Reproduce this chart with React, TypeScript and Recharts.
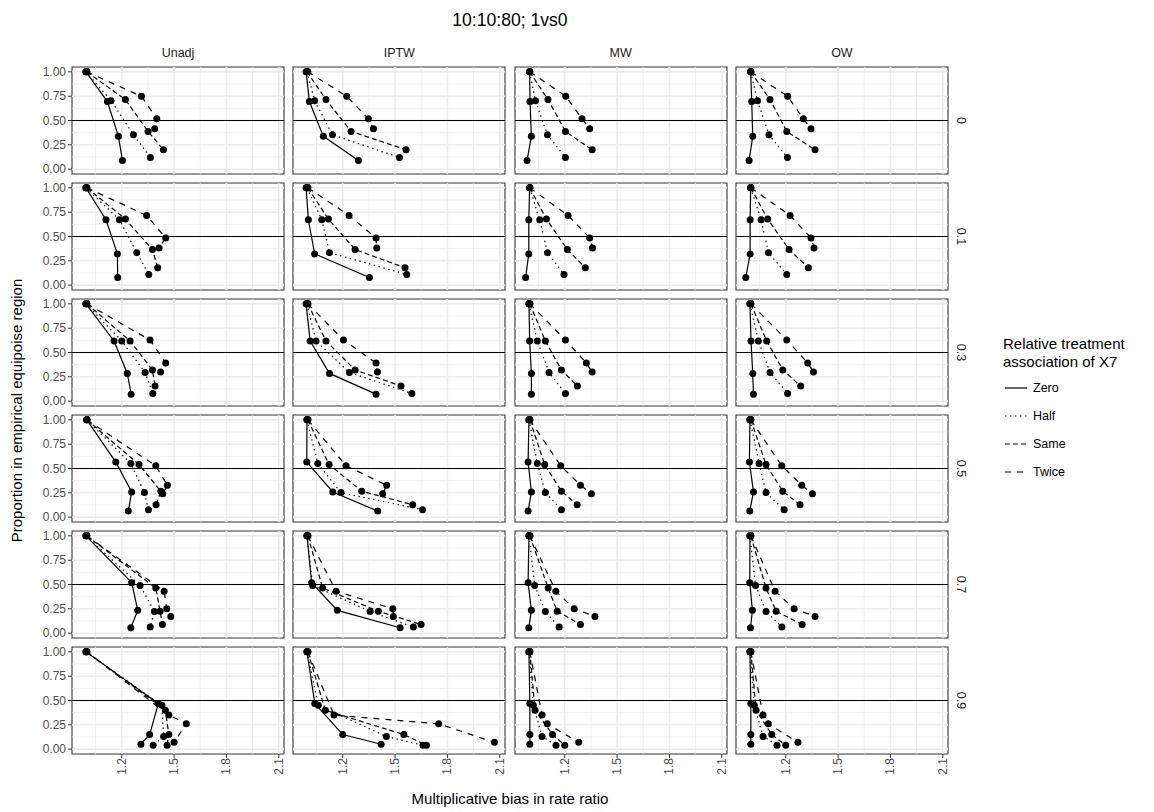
import React from 'react';
import { ComposedChart, Scatter, XAxis, YAxis, ReferenceLine, ReferenceArea } from 'recharts';

const title = '10:10:80; 1vs0';
const methods = ['Unadj', 'IPTW', 'MW', 'OW'];
const factors = ['0', '0.1', '0.3', '0.5', '0.7', '0.9'];
const seriesNames = ['Zero', 'Half', 'Same', 'Twice'];
const xTicks = [1.2, 1.5, 1.8, 2.1];
const xMinor = [1.05, 1.35, 1.65, 1.95];
const yTicks = [0, 0.25, 0.5, 0.75, 1];
const yMinor = [0.125, 0.375, 0.625, 0.875];

// proportion in equipoise region (rows = factor levels)
const yZero = [
  [1, 0.695, 0.337, 0.089],
  [1, 0.672, 0.321, 0.079],
  [1, 0.619, 0.285, 0.072],
  [1, 0.566, 0.259, 0.062],
  [1, 0.519, 0.234, 0.055],
  [1, 0.47, 0.15, 0.05],
];
const yHalf = [
  [1, 0.704, 0.354, 0.12],
  [1, 0.672, 0.334, 0.11],
  [1, 0.619, 0.295, 0.079],
  [1, 0.552, 0.252, 0.076],
  [1, 0.491, 0.223, 0.062],
  [1, 0.45, 0.13, 0.04],
];
const ySame = [
  [1, 0.715, 0.388, 0.199],
  [1, 0.679, 0.366, 0.179],
  [1, 0.619, 0.32, 0.155],
  [1, 0.541, 0.266, 0.128],
  [1, 0.464, 0.225, 0.089],
  [1, 0.4, 0.15, 0.04],
];
const yTwice = [
  [1, 0.749, 0.519, 0.414],
  [1, 0.717, 0.485, 0.383],
  [1, 0.629, 0.392, 0.3],
  [1, 0.528, 0.328, 0.241],
  [1, 0.431, 0.251, 0.172],
  [1, 0.35, 0.26, 0.07],
];

// multiplicative bias (rows = factor levels)
const xUnadjZero = [
  [0.995, 1.118, 1.181, 1.204],
  [0.995, 1.11, 1.175, 1.177],
  [0.995, 1.156, 1.232, 1.254],
  [1.0, 1.166, 1.257, 1.238],
  [0.995, 1.257, 1.292, 1.252],
  [0.995, 1.41, 1.36, 1.31],
];
const xUnadjHalf = [
  [0.995, 1.139, 1.267, 1.364],
  [0.995, 1.187, 1.286, 1.355],
  [0.995, 1.2, 1.334, 1.378],
  [1.0, 1.252, 1.33, 1.353],
  [0.995, 1.305, 1.387, 1.363],
  [0.995, 1.43, 1.44, 1.38],
];
const xUnadjSame = [
  [1.0, 1.221, 1.351, 1.439],
  [1.0, 1.221, 1.376, 1.406],
  [1.0, 1.248, 1.376, 1.391],
  [1.0, 1.299, 1.424, 1.397],
  [1.0, 1.395, 1.42, 1.433],
  [1.0, 1.45, 1.47, 1.46],
];
const xUnadjTwice = [
  [1.0, 1.313, 1.401, 1.389],
  [1.0, 1.343, 1.452, 1.414],
  [1.0, 1.362, 1.452, 1.423],
  [1.0, 1.395, 1.462, 1.435],
  [1.0, 1.443, 1.458, 1.481],
  [1.0, 1.47, 1.57, 1.5],
];
const xIptwZero = [
  [0.99, 1.009, 1.089, 1.29],
  [0.99, 1.003, 1.039, 1.353],
  [0.99, 1.013, 1.124, 1.391],
  [0.995, 0.994, 1.143, 1.401],
  [0.995, 1.022, 1.169, 1.529],
  [0.995, 1.04, 1.2, 1.42],
];
const xIptwHalf = [
  [0.995, 1.039, 1.141, 1.525],
  [0.995, 1.08, 1.124, 1.567],
  [0.995, 1.047, 1.238, 1.596],
  [0.995, 1.057, 1.19, 1.657],
  [0.995, 1.028, 1.357, 1.605],
  [0.995, 1.06, 1.45, 1.66],
];
const xIptwSame = [
  [0.995, 1.104, 1.248, 1.563],
  [1.0, 1.118, 1.271, 1.557],
  [1.0, 1.104, 1.271, 1.534],
  [1.0, 1.122, 1.309, 1.601],
  [1.0, 1.085, 1.404, 1.649],
  [1.0, 1.1, 1.55, 1.68],
];
const xIptwTwice = [
  [1.0, 1.223, 1.347, 1.376],
  [1.0, 1.236, 1.391, 1.395],
  [1.0, 1.204, 1.391, 1.399],
  [1.0, 1.219, 1.452, 1.429],
  [1.0, 1.162, 1.487, 1.49],
  [1.0, 1.15, 1.75, 2.07],
];
const xMwZero = [
  [0.999, 1.001, 1.009, 0.984],
  [0.999, 0.994, 0.994, 0.976],
  [0.995, 0.999, 1.009, 1.009],
  [0.995, 0.99, 1.009, 0.99],
  [0.995, 0.99, 1.009, 0.994],
  [0.995, 1.0, 1.0, 1.0],
];
const xMwHalf = [
  [0.999, 1.032, 1.101, 1.204],
  [0.999, 1.057, 1.101, 1.196],
  [0.995, 1.043, 1.11, 1.204],
  [0.995, 1.043, 1.089, 1.181],
  [0.995, 1.028, 1.089, 1.168],
  [0.995, 1.02, 1.07, 1.15],
];
const xMwSame = [
  [0.999, 1.104, 1.204, 1.357],
  [1.0, 1.095, 1.215, 1.318],
  [1.0, 1.089, 1.181, 1.273],
  [1.0, 1.085, 1.181, 1.271],
  [1.0, 1.105, 1.157, 1.29],
  [1.0, 1.03, 1.13, 1.2],
];
const xMwTwice = [
  [1.0, 1.206, 1.299, 1.343],
  [1.0, 1.219, 1.343, 1.359],
  [1.0, 1.204, 1.324, 1.357],
  [1.0, 1.177, 1.29, 1.353],
  [1.0, 1.149, 1.254, 1.373],
  [1.0, 1.07, 1.1, 1.28],
];
const xOwZero = [
  [0.999, 1.005, 1.011, 0.99],
  [0.999, 0.996, 0.996, 0.971],
  [0.995, 1.001, 1.011, 1.015],
  [0.995, 0.992, 1.015, 0.994],
  [0.995, 0.994, 1.009, 0.998],
  [0.995, 1.0, 1.0, 1.0],
];
const xOwHalf = [
  [0.999, 1.038, 1.104, 1.21],
  [0.999, 1.059, 1.101, 1.206],
  [0.995, 1.043, 1.11, 1.211],
  [0.995, 1.047, 1.087, 1.191],
  [0.995, 1.027, 1.087, 1.178],
  [0.995, 1.02, 1.07, 1.15],
];
const xOwSame = [
  [1.0, 1.11, 1.206, 1.368],
  [1.0, 1.097, 1.219, 1.33],
  [1.0, 1.091, 1.183, 1.286],
  [1.0, 1.087, 1.183, 1.282],
  [1.0, 1.087, 1.145, 1.294],
  [1.0, 1.03, 1.12, 1.2],
];
const xOwTwice = [
  [1.0, 1.211, 1.301, 1.345],
  [1.0, 1.225, 1.345, 1.362],
  [1.0, 1.206, 1.326, 1.359],
  [1.0, 1.177, 1.292, 1.353],
  [1.0, 1.139, 1.248, 1.368],
  [1.0, 1.07, 1.1, 1.27],
];

const yBySeries = [yZero, yHalf, ySame, yTwice];
const xByMethod = [
  [xUnadjZero, xUnadjHalf, xUnadjSame, xUnadjTwice],
  [xIptwZero, xIptwHalf, xIptwSame, xIptwTwice],
  [xMwZero, xMwHalf, xMwSame, xMwTwice],
  [xOwZero, xOwHalf, xOwSame, xOwTwice],
];

// styling
const DASH: Record<string, string | undefined> = {
  Zero: undefined,
  Half: '1.4 3.6',
  Same: '5 3',
  Twice: '6 6',
};
const FONT = '"Liberation Sans", Arial, Helvetica, sans-serif';
const X_DOMAIN: [number, number] = [0.915, 2.13];
const Y_DOMAIN: [number, number] = [-0.05, 1.05];
const PW = 212;
const PH = 107;
const PANEL_LEFT = [72, 293.3, 514.6, 735.9];
const PANEL_TOP = [67, 183, 299, 415, 531, 647];
const Y_AXIS_W = 40;
const X_AXIS_H = 34;

const Dot = (p: any) => <circle cx={p.cx} cy={p.cy} r={3.5} fill="#000" />;

const XTick = (p: any) => {
  const { x, y, payload } = p;
  return (
    <text
      x={x}
      y={y - 2}
      transform={`rotate(-90 ${x} ${y - 2})`}
      textAnchor="end"
      dominantBaseline="central"
      fontSize={12}
      fontFamily={FONT}
      fill="#4d4d4d"
    >
      {Number(payload.value).toFixed(1)}
    </text>
  );
};

function Panel({ mi, ri }: { mi: number; ri: number }) {
  const isLeft = mi === 0;
  const isBottom = ri === 5;
  const w = PW + (isLeft ? Y_AXIS_W : 0);
  const h = PH + (isBottom ? X_AXIS_H : 0);
  const left = PANEL_LEFT[mi] - (isLeft ? Y_AXIS_W : 0);
  const top = PANEL_TOP[ri];
  return (
    <div style={{ position: 'absolute', left, top }}>
      <ComposedChart width={w} height={h} margin={{ top: 0, right: 0, bottom: 0, left: 0 }}>
        <XAxis
          type="number"
          dataKey="x"
          domain={X_DOMAIN}
          ticks={xTicks}
          allowDataOverflow
          hide={!isBottom}
          height={X_AXIS_H}
          axisLine={false}
          tickSize={4}
          tickLine={{ stroke: '#333333' }}
          tick={<XTick />}
          interval={0}
        />
        <YAxis
          type="number"
          dataKey="y"
          domain={Y_DOMAIN}
          ticks={yTicks}
          allowDataOverflow
          hide={!isLeft}
          width={Y_AXIS_W}
          axisLine={false}
          tickSize={4}
          tickMargin={2}
          tickLine={{ stroke: '#333333' }}
          tick={{ fontSize: 12, fill: '#4d4d4d', fontFamily: FONT }}
          tickFormatter={(v: number) => v.toFixed(2)}
          interval={0}
        />
        {xMinor.map((v) => (
          <ReferenceLine key={'xm' + v} x={v} stroke="#ebebeb" strokeWidth={0.8} />
        ))}
        {yMinor.map((v) => (
          <ReferenceLine key={'ym' + v} y={v} stroke="#ebebeb" strokeWidth={0.8} />
        ))}
        {xTicks.map((v) => (
          <ReferenceLine key={'xM' + v} x={v} stroke="#ebebeb" strokeWidth={1.5} />
        ))}
        {yTicks.map((v) => (
          <ReferenceLine key={'yM' + v} y={v} stroke="#ebebeb" strokeWidth={1.5} />
        ))}
        <ReferenceLine y={0.5} stroke="#000" strokeWidth={1.2} />
        {seriesNames.map((s, si) => {
          const xs = xByMethod[mi][si][ri];
          const ys = yBySeries[si][ri];
          const data = xs.map((x, i) => ({ x, y: ys[i] }));
          return (
            <Scatter
              key={s}
              name={s}
              data={data}
              fill="#000"
              line={{ stroke: '#000', strokeWidth: 1.2, strokeDasharray: DASH[s] }}
              lineType="joint"
              shape={Dot}
              isAnimationActive={false}
            />
          );
        })}
        <ReferenceArea
          x1={X_DOMAIN[0]}
          x2={X_DOMAIN[1]}
          y1={Y_DOMAIN[0]}
          y2={Y_DOMAIN[1]}
          fill="none"
          fillOpacity={0}
          stroke="#333333"
          strokeWidth={1.1}
          ifOverflow="visible"
        />
      </ComposedChart>
    </div>
  );
}

export default function App() {
  const panelsRight = PANEL_LEFT[3] + PW;
  const panelsBottom = PANEL_TOP[5] + PH;
  const midX = (PANEL_LEFT[0] + panelsRight) / 2;
  const midY = (PANEL_TOP[0] + panelsBottom) / 2;
  return (
    <div style={{ position: 'relative', width: 1154, height: 812, background: '#fff', fontFamily: FONT, overflow: 'hidden' }}>
      <style>{`body{margin:0} .recharts-surface{overflow:visible}`}</style>
      <svg width={1154} height={812} style={{ position: 'absolute', left: 0, top: 0 }}>
        <text x={midX} y={20} textAnchor="middle" dominantBaseline="central" fontSize={17.6} fill="#000" fontFamily={FONT}>
          {title}
        </text>
        {methods.map((m, i) => (
          <text key={m} x={PANEL_LEFT[i] + PW / 2} y={53} textAnchor="middle" dominantBaseline="central" fontSize={12.5} fill="#1a1a1a" fontFamily={FONT}>
            {m}
          </text>
        ))}
        {factors.map((f, i) => {
          const cx = panelsRight + 13;
          const cy = PANEL_TOP[i] + PH / 2;
          return (
            <text key={f} x={cx} y={cy} transform={`rotate(90 ${cx} ${cy})`} textAnchor="middle" dominantBaseline="central" fontSize={12.5} fill="#1a1a1a" fontFamily={FONT}>
              {f}
            </text>
          );
        })}
        <text x={16} y={midY} transform={`rotate(-90 16 ${midY})`} textAnchor="middle" dominantBaseline="central" fontSize={15} fill="#000" fontFamily={FONT}>
          Proportion in empirical equipoise region
        </text>
        <text x={midX} y={798} textAnchor="middle" dominantBaseline="central" fontSize={15} fill="#000" fontFamily={FONT}>
          Multiplicative bias in rate ratio
        </text>
        <text x={1003} y={343} dominantBaseline="central" fontSize={15} fill="#000" fontFamily={FONT}>
          Relative treatment
        </text>
        <text x={1003} y={361} dominantBaseline="central" fontSize={15} fill="#000" fontFamily={FONT}>
          association of X7
        </text>
        {seriesNames.map((s, i) => {
          const cy = 388 + i * 28;
          return (
            <g key={s}>
              <line x1={1005} x2={1027} y1={cy} y2={cy} stroke="#000" strokeWidth={1.2} strokeDasharray={DASH[s]} />
              <text x={1033} y={cy} dominantBaseline="central" fontSize={12.5} fill="#000" fontFamily={FONT}>
                {s}
              </text>
            </g>
          );
        })}
      </svg>
      {factors.map((_, ri) => methods.map((__, mi) => <Panel key={mi + '-' + ri} mi={mi} ri={ri} />))}
    </div>
  );
}
